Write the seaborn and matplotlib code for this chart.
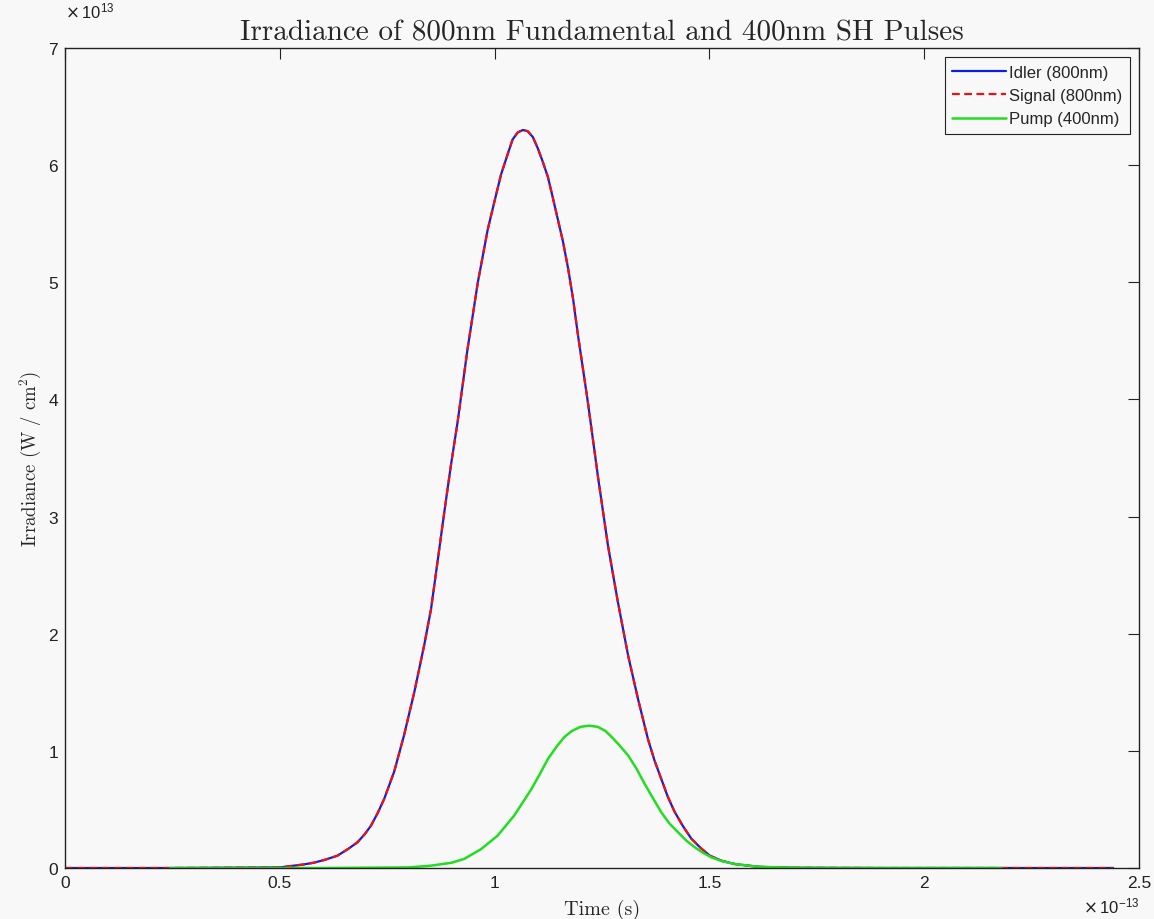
import numpy as np
import pandas as pd
import matplotlib
matplotlib.use("Agg")
import matplotlib.pyplot as plt
import seaborn as sns
from matplotlib.ticker import ScalarFormatter

# ---- data (time in units of 1e-13 s, irradiance in units of 1e13 W/cm^2) ----
idler_t = [0.0, 0.25, 0.50, 0.533, 0.555, 0.579, 0.605, 0.634, 0.658, 0.681, 0.698,
           0.712, 0.728, 0.743, 0.766, 0.789, 0.813, 0.836, 0.852, 0.867, 0.883,
           0.898, 0.914, 0.937, 0.961, 0.984, 0.999, 1.015, 1.031, 1.042, 1.054,
           1.066, 1.077, 1.089, 1.101, 1.112, 1.124, 1.135, 1.147, 1.159, 1.171,
           1.183, 1.194, 1.217, 1.241, 1.264, 1.287, 1.311, 1.334, 1.357, 1.372,
           1.388, 1.403, 1.419, 1.438, 1.458, 1.480, 1.501, 1.530, 1.559, 1.614,
           1.70, 1.90, 2.44]
idler_v = [0.0, 0.0, 0.005, 0.02, 0.03, 0.045, 0.07, 0.105, 0.16, 0.22, 0.29,
           0.36, 0.47, 0.59, 0.82, 1.13, 1.50, 1.90, 2.21, 2.61, 3.04,
           3.43, 3.81, 4.43, 5.00, 5.45, 5.68, 5.92, 6.10, 6.22, 6.28,
           6.30, 6.29, 6.24, 6.14, 6.03, 5.90, 5.73, 5.54, 5.35, 5.12,
           4.85, 4.55, 3.98, 3.33, 2.75, 2.27, 1.81, 1.44, 1.10, 0.92,
           0.76, 0.61, 0.48, 0.36, 0.25, 0.17, 0.105, 0.06, 0.034, 0.01,
           0.002, 0.0, 0.0]
signal_t = list(idler_t)
signal_v = list(idler_v)
pump_t = [0.245, 0.60, 0.80, 0.852, 0.90, 0.929, 0.968, 1.007, 1.046, 1.085, 1.105,
          1.124, 1.145, 1.163, 1.180, 1.200, 1.220, 1.240, 1.258, 1.272, 1.290,
          1.311, 1.330, 1.349, 1.368, 1.388, 1.407, 1.427, 1.446, 1.466, 1.485,
          1.505, 1.530, 1.559, 1.614, 1.70, 1.80, 2.18]
pump_v = [0.0, 0.0, 0.005, 0.02, 0.045, 0.077, 0.16, 0.276, 0.45, 0.67, 0.80,
          0.93, 1.04, 1.12, 1.17, 1.205, 1.215, 1.205, 1.17, 1.12, 1.05,
          0.96, 0.85, 0.72, 0.60, 0.475, 0.38, 0.305, 0.235, 0.177, 0.13,
          0.09, 0.058, 0.034, 0.01, 0.002, 0.0, 0.0]
labels = ["Idler (800nm)", "Signal (800nm)", "Pump (400nm)"]
x_ticks = [0, 0.5, 1, 1.5, 2, 2.5]
y_ticks = [0, 1, 2, 3, 4, 5, 6, 7]

T_UNIT = 1e-13
I_UNIT = 1e13

sns.set_theme(style="white")
plt.rcParams["font.family"] = ["Liberation Sans", "DejaVu Sans"]
plt.rcParams["axes.formatter.use_mathtext"] = True

BG = "#f8f8f8"
fig = plt.figure(figsize=(11.54, 9.2), dpi=100, facecolor=BG)
ax = fig.add_axes([65 / 1154, 51 / 920, (1139 - 65) / 1154, (869 - 49) / 920])
ax.set_facecolor(BG)

df_i = pd.DataFrame({"t": np.array(idler_t) * T_UNIT, "v": np.array(idler_v) * I_UNIT})
df_s = pd.DataFrame({"t": np.array(signal_t) * T_UNIT, "v": np.array(signal_v) * I_UNIT})
df_p = pd.DataFrame({"t": np.array(pump_t) * T_UNIT, "v": np.array(pump_v) * I_UNIT})

sns.lineplot(data=df_i, x="t", y="v", ax=ax, color="#0a1ee6", lw=1.6,
             sort=False, estimator=None, label=labels[0])
sns.lineplot(data=df_s, x="t", y="v", ax=ax, color="#f01010", lw=1.6,
             sort=False, estimator=None, label=labels[1])
ax.lines[-1].set_linestyle((0, (3.5, 2)))
sns.lineplot(data=df_p, x="t", y="v", ax=ax, color="#22dd22", lw=1.8,
             sort=False, estimator=None, label=labels[2])

ax.set_xlim(0, 2.5 * T_UNIT)
ax.set_ylim(0, 7 * I_UNIT)
ax.set_xticks(np.array(x_ticks) * T_UNIT)
ax.set_yticks(np.array(y_ticks) * I_UNIT)


class GFormatter(ScalarFormatter):
    def _set_format(self):
        self.format = "%g"


for axis in (ax.xaxis, ax.yaxis):
    axis.set_major_formatter(GFormatter(useMathText=True))
    axis.get_offset_text().set_visible(False)

ax.tick_params(direction="in", length=8, width=0.8, top=True, right=True,
               labelsize=12.5, colors="#222222", pad=5)
for s in ax.spines.values():
    s.set_color("#222222")
    s.set_linewidth(1.0)

# exponent labels (MATLAB style)
ax.annotate(r"$\times\,\mathdefault{10^{13}}$", xy=(0, 1), xycoords="axes fraction",
            xytext=(0, 20), textcoords="offset points", ha="left", va="bottom",
            fontsize=12, color="#222222")
ax.annotate(r"$\times\,\mathdefault{10^{-13}}$", xy=(1, 0), xycoords="axes fraction",
            xytext=(0, -20), textcoords="offset points", ha="right", va="top",
            fontsize=12, color="#222222")

ax.set_title("Irradiance of 800nm Fundamental and 400nm SH Pulses",
             family="cmr10", fontsize=21, pad=6)
ax.set_xlabel("Time (s)", family="cmr10", fontsize=14.5)
ax.xaxis.set_label_coords(0.5, -0.038)
ax.set_ylabel(r"Irradiance (W / cm$^{\mathdefault{2}}$)", family="cmr10",
              fontsize=13.5)
ax.yaxis.set_label_coords(-0.0205, 0.5)

leg = ax.legend(loc="upper right", fontsize=12, frameon=True, fancybox=False,
                edgecolor="#222222", facecolor=BG, framealpha=1,
                handlelength=3.2, handletextpad=0.2, labelspacing=0.5,
                borderpad=0.45, borderaxespad=0.55)
leg.get_frame().set_linewidth(0.8)

fig.savefig("out.png", dpi=100, facecolor=BG)
